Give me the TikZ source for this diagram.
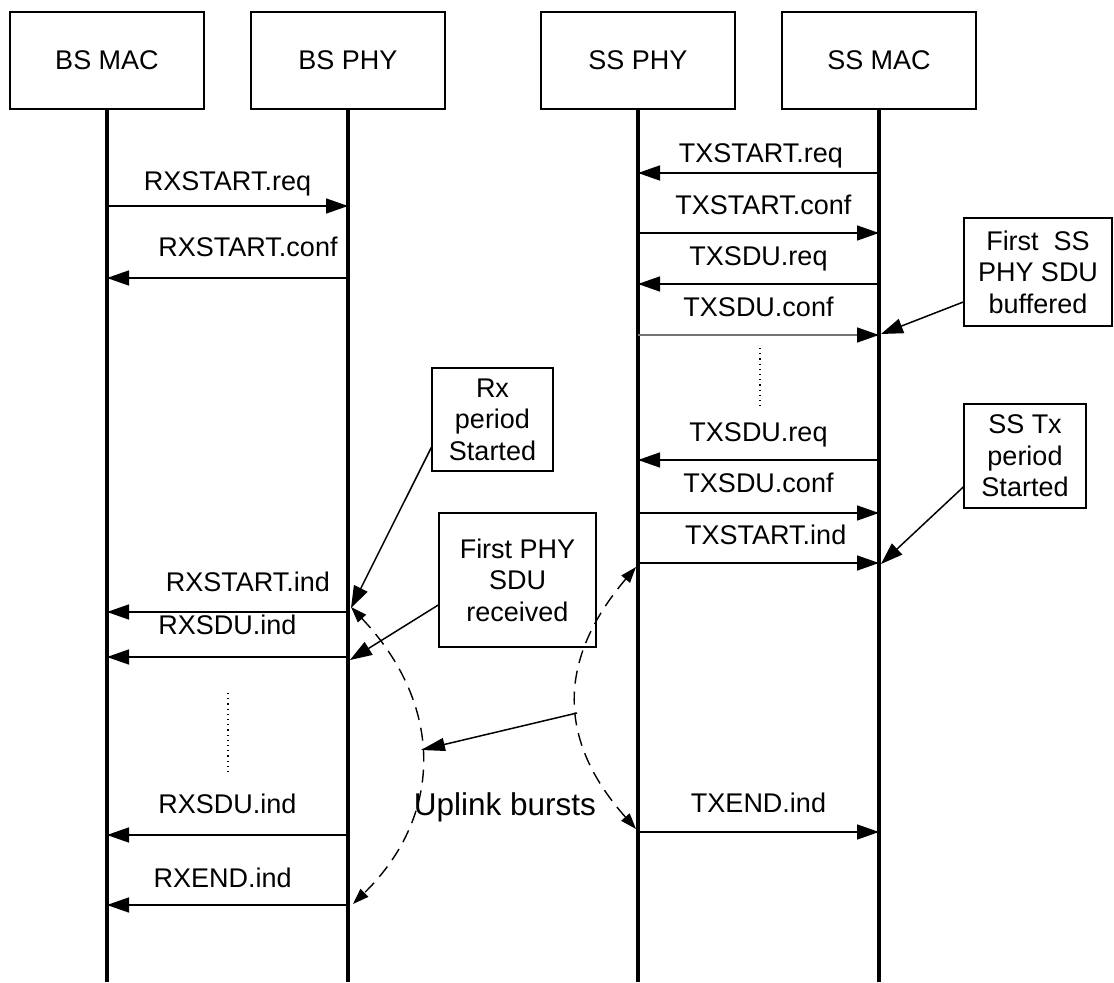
\documentclass[tikz,border=0pt]{standalone}
\usepackage{fontspec}
\setmainfont{Liberation Sans}
\usetikzlibrary{arrows.meta}

\begin{document}
\begin{tikzpicture}[
  x=0.5pt, y=-0.5pt,
  every node/.style={font=\fontsize{13.5}{15.75}\selectfont},
  entidad/.style={draw=black, line width=0.7pt, minimum width=97pt, minimum height=48.5pt, inner sep=0pt},
  nota/.style={draw=black, line width=0.7pt, align=center, inner sep=0pt},
  vida/.style={line width=2.4pt},
  mensaje/.style={line width=0.75pt, -{Triangle[length=11pt, width=7.5pt]}},
  etiqueta/.style={anchor=base, yshift=9pt},
  rafaga/.style={line width=0.7pt, dash pattern=on 6.5pt off 4pt,
    {Triangle[length=8pt, width=5.5pt]}-{Triangle[length=8pt, width=5.5pt]}}
]
\useasboundingbox (0,0) rectangle (1114,983);

\node[entidad] (bsmac) at (107,60.5) {BS MAC};
\node[entidad] (bsphy) at (348,60.5) {BS PHY};
\node[entidad] (ssphy) at (638,60.5) {SS PHY};
\node[entidad] (ssmac) at (879,60.5) {SS MAC};

\coordinate (bsmacfin) at (107,982);
\coordinate (bsphyfin) at (348,982);
\coordinate (ssphyfin) at (638,982);
\coordinate (ssmacfin) at (879,982);
\draw[vida] (bsmac.south) -- (bsmacfin);
\draw[vida] (bsphy.south) -- (bsphyfin);
\draw[vida] (ssphy.south) -- (ssphyfin);
\draw[vida] (ssmac.south) -- (ssmacfin);

% mensajes del lado SS
\draw[mensaje] (ssmac |- 0,173) -- node[etiqueta, pos=0.49, yshift=-4pt] {TXSTART.req} (ssphy |- 0,173);
\draw[mensaje] (ssphy |- 0,233) -- node[etiqueta, pos=0.52] {TXSTART.conf} (ssmac |- 0,233);
\draw[mensaje] (ssmac |- 0,284) -- node[etiqueta] {TXSDU.req} (ssphy |- 0,284);
\draw[mensaje, draw=black!55, -{Triangle[length=11pt, width=7.5pt, color=black]}] (ssphy |- 0,335) -- node[etiqueta] {TXSDU.conf} (ssmac |- 0,335);
\draw[mensaje] (ssmac |- 0,460) -- node[etiqueta] {TXSDU.req} (ssphy |- 0,460);
\draw[mensaje] (ssphy |- 0,513) -- node[etiqueta, yshift=1pt] {TXSDU.conf} (ssmac |- 0,513);
\draw[mensaje] (ssphy |- 0,563) -- node[etiqueta, pos=0.53] {TXSTART.ind} (ssmac |- 0,563);
\draw[mensaje] (ssphy |- 0,832) -- node[etiqueta, yshift=1pt] {TXEND.ind} (ssmac |- 0,832);

% mensajes del lado BS
\draw[mensaje] (bsmac |- 0,206) -- node[etiqueta, yshift=-1.5pt] {RXSTART.req} (bsphy |- 0,206);
\draw[mensaje] (bsphy |- 0,278) -- node[etiqueta, pos=0.415, yshift=1.5pt] {RXSTART.conf} (bsmac |- 0,278);
\draw[mensaje] (bsphy |- 0,612) -- node[etiqueta, pos=0.415, yshift=1pt] {RXSTART.ind} (bsmac |- 0,612);
\draw[mensaje] (bsphy |- 0,657) -- node[etiqueta, yshift=2pt] {RXSDU.ind} (bsmac |- 0,657);
\draw[mensaje] (bsphy |- 0,835) -- node[etiqueta, yshift=2pt] {RXSDU.ind} (bsmac |- 0,835);
\draw[mensaje] (bsphy |- 0,905) -- node[etiqueta, pos=0.52] {RXEND.ind} (bsmac |- 0,905);

\draw[dotted, line width=0.6pt] (760,348) -- (760,410);
\draw[dotted, line width=0.6pt] (228,693) -- (228,772);

% notas
\node[nota, minimum width=74pt, minimum height=54pt] (bufer) at (1038,272) {First\ \ SS\\PHY SDU\\buffered};
\node[nota, minimum width=61pt, minimum height=52pt] (txper) at (1025,456) {SS Tx\\period\\Started};
\node[nota, minimum width=60.5pt, minimum height=51.5pt] (rxper) at (492.5,419.5) {Rx\\period\\Started};
\node[nota, minimum width=78.5pt, minimum height=67pt] (primer) at (517.5,580) {First PHY\\SDU\\received};

\coordinate (bufer-p) at (881,334);
\coordinate (txper-p) at (881,564);
\coordinate (rxper-p) at (351,608);
\coordinate (primer-p) at (350,660);
\draw[mensaje] ([yshift=-15pt]bufer.west) -- (bufer-p);
\draw[mensaje] ([yshift=-15.5pt]txper.west) -- (txper-p);
\draw[mensaje] ([yshift=-14pt]rxper.west) -- (rxper-p);
\draw[mensaje] ([yshift=-12.5pt]primer.west) -- (primer-p);

% rafagas de subida
\coordinate (izqa) at (351,607);
\coordinate (izqb) at (353,904);
\coordinate (dera) at (636,567);
\coordinate (derb) at (636,829);
\coordinate (brazo) at (577,713);
\coordinate (hueco) at (421,750);
\draw[rafaga] (izqa) .. controls (444,705) and (444,815) .. (izqb);
\draw[rafaga] (dera) .. controls (557,660) and (557,740) .. (derb);
\draw[line width=0.75pt, -{Triangle[length=12pt, width=6.5pt]}] (brazo) -- (hueco);
\node[anchor=base, font=\fontsize{15.75}{18}\selectfont] (subida) at (505,815) {Uplink bursts};
\end{tikzpicture}
\end{document}
